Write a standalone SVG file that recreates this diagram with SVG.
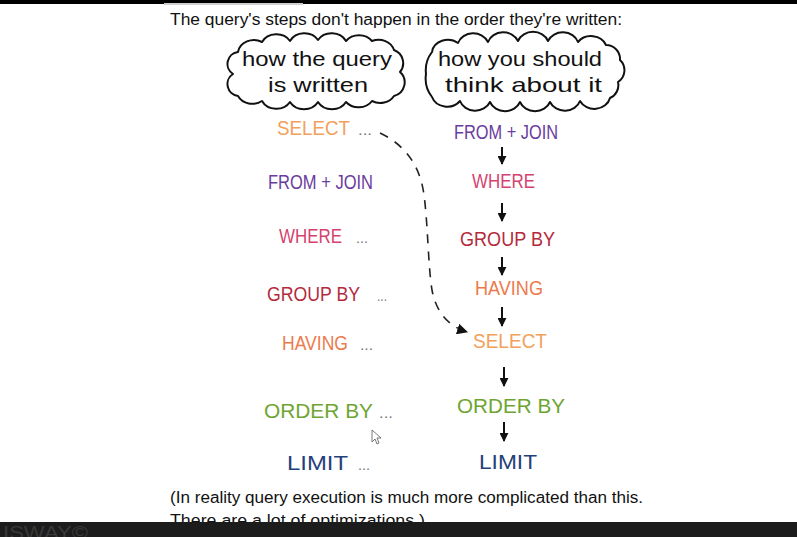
<svg xmlns="http://www.w3.org/2000/svg" width="797" height="537" viewBox="0 0 797 537">
<style>
.hand{font-family:"Liberation Sans","DejaVu Sans",sans-serif;fill:#111}
.cap{font-family:"Liberation Sans Narrow","Liberation Sans","DejaVu Sans Condensed",sans-serif;font-size:21px}
.dots{font-family:"Liberation Sans",sans-serif;font-size:15px;fill:#777}
.cloud{fill:#fff;stroke:#111;stroke-width:2;stroke-linejoin:round}
.arr{stroke:#111;stroke-width:2;fill:none}
.c-select{fill:#f2a15c}.c-from{fill:#6a3c9e}.c-where{fill:#d5426f}.c-group{fill:#b42a3c}.c-having{fill:#ec7b4c}.c-order{fill:#6ea532}.c-limit{fill:#24407a}
</style>
<defs>
<marker id="ah" viewBox="0 0 10 10" refX="9" refY="5" markerWidth="9" markerHeight="9" markerUnits="userSpaceOnUse" orient="auto"><path d="M0,0 L10,5 L0,10 z" fill="#111"/></marker>
<marker id="ah2" viewBox="0 0 10 10" refX="9" refY="5" markerWidth="11" markerHeight="11" markerUnits="userSpaceOnUse" orient="auto"><path d="M0,0 L10,5 L0,10 z" fill="#111"/></marker>
</defs>
<rect width="797" height="537" fill="#fff"/>
<rect x="0" y="0" width="797" height="4" fill="#000"/>
<rect x="164" y="3" width="139" height="2" fill="#cfcfcf"/>
<text class="hand" x="170" y="25" font-size="16" textLength="452" lengthAdjust="spacingAndGlyphs">The query's steps don't happen in the order they're written:</text>

<g id="cloud-written">
<path class="cloud" d="M238,52 A16,14 0 0 1 262,42 A16,14 0 0 1 290,41 A16,14 0 0 1 318,40 A16,14 0 0 1 346,41 A16,14 0 0 1 372,41 A16,14 0 0 1 394,50 A14,14 0 0 1 400,72 A14,14 0 0 1 394,96 A16,14 0 0 1 372,101 A16,14 0 0 1 346,102 A16,14 0 0 1 318,102 A16,14 0 0 1 290,102 A16,14 0 0 1 262,101 A16,14 0 0 1 238,96 A12,12 0 0 1 233,74 A12,12 0 0 1 238,52 Z"/>
<text class="hand" x="242" y="66" font-size="21" textLength="150" lengthAdjust="spacingAndGlyphs">how the query</text>
<text class="hand" x="268" y="92" font-size="21" textLength="100" lengthAdjust="spacingAndGlyphs">is written</text>
</g>
<g id="cloud-think">
<path class="cloud" d="M432,52 A16,14 0 0 1 458,43 A16,14 0 0 1 488,42 A16,14 0 0 1 518,41 A16,14 0 0 1 548,41 A16,14 0 0 1 578,42 A16,14 0 0 1 606,45 A14,14 0 0 1 620,60 A14,14 0 0 1 618,82 A14,14 0 0 1 610,98 A16,14 0 0 1 580,101 A16,14 0 0 1 550,102 A16,14 0 0 1 520,102 A16,14 0 0 1 490,102 A16,14 0 0 1 460,101 A16,14 0 0 1 432,97 A30,30 0 0 1 426,74 A30,30 0 0 1 432,52 Z"/>
<text class="hand" x="438" y="66" font-size="21" textLength="164" lengthAdjust="spacingAndGlyphs">how you should</text>
<text class="hand" x="445" y="92" font-size="21" textLength="157" lengthAdjust="spacingAndGlyphs">think about it</text>
</g>

<g id="left-select"><text class="cap c-select" x="277" y="135" textLength="73" lengthAdjust="spacingAndGlyphs">SELECT</text><text class="dots" x="358" y="135" textLength="14" lengthAdjust="spacingAndGlyphs">...</text></g>
<g id="left-from"><text class="cap c-from" x="268" y="189" font-size="19" textLength="105" lengthAdjust="spacingAndGlyphs">FROM + JOIN</text></g>
<g id="left-where"><text class="cap c-where" x="279" y="243" textLength="63" lengthAdjust="spacingAndGlyphs">WHERE</text><text class="dots" x="356" y="243" textLength="12" lengthAdjust="spacingAndGlyphs">...</text></g>
<g id="left-group"><text class="cap c-group" x="267" y="301" font-size="19" textLength="93" lengthAdjust="spacingAndGlyphs">GROUP BY</text><text class="dots" x="377" y="301" textLength="10" lengthAdjust="spacingAndGlyphs">...</text></g>
<g id="left-having"><text class="cap c-having" x="282" y="350" textLength="66" lengthAdjust="spacingAndGlyphs">HAVING</text><text class="dots" x="360" y="350" textLength="13" lengthAdjust="spacingAndGlyphs">...</text></g>
<g id="left-order"><text class="cap c-order" x="264" y="418" textLength="109" lengthAdjust="spacingAndGlyphs">ORDER BY</text><text class="dots" x="379" y="418" textLength="14" lengthAdjust="spacingAndGlyphs">...</text></g>
<g id="left-limit"><text class="cap c-limit" x="287" y="470" textLength="61" lengthAdjust="spacingAndGlyphs">LIMIT</text><text class="dots" x="358" y="470" textLength="12" lengthAdjust="spacingAndGlyphs">...</text></g>

<g id="right-from"><text class="cap c-from" x="454" y="139" font-size="19" textLength="104" lengthAdjust="spacingAndGlyphs">FROM + JOIN</text></g>
<g id="right-where"><text class="cap c-where" x="472" y="188" textLength="63" lengthAdjust="spacingAndGlyphs">WHERE</text></g>
<g id="right-group"><text class="cap c-group" x="460" y="246" textLength="95" lengthAdjust="spacingAndGlyphs">GROUP BY</text></g>
<g id="right-having"><text class="cap c-having" x="475" y="295" textLength="68" lengthAdjust="spacingAndGlyphs">HAVING</text></g>
<g id="right-select"><text class="cap c-select" x="473" y="348" textLength="74" lengthAdjust="spacingAndGlyphs">SELECT</text></g>
<g id="right-order"><text class="cap c-order" x="457" y="413" textLength="108" lengthAdjust="spacingAndGlyphs">ORDER BY</text></g>
<g id="right-limit"><text class="cap c-limit" x="479" y="469" textLength="58" lengthAdjust="spacingAndGlyphs">LIMIT</text></g>

<g id="connectors">
<path class="arr" d="M502,147 L502,164" marker-end="url(#ah)"/>
<path class="arr" d="M502,203 L502,221" marker-end="url(#ah)"/>
<path class="arr" d="M502,257 L502,275" marker-end="url(#ah)"/>
<path class="arr" d="M502,307 L502,326" marker-end="url(#ah)"/>
<path class="arr" d="M504,367 L504,386" marker-end="url(#ah)"/>
<path class="arr" d="M504,422 L504,441" marker-end="url(#ah)"/>
<path d="M380,133 C405,145 420,165 424,195 C428,225 428,265 432,290 C436,312 448,326 467,332" fill="none" stroke="#222" stroke-width="1.6" stroke-dasharray="9 8" marker-end="url(#ah2)"/>
</g>

<text class="hand" x="170" y="503" font-size="16" textLength="473" lengthAdjust="spacingAndGlyphs">(In reality query execution is much more complicated than this.</text>
<text class="hand" x="170" y="526" font-size="16" textLength="255" lengthAdjust="spacingAndGlyphs">There are a lot of optimizations.)</text>

<path d="M372,430 L372,442 L375,439 L377,444 L379,443 L377,438 L381,438 Z" fill="#fff" stroke="#555" stroke-width="0.8"/>

<rect x="0" y="522" width="797" height="15" fill="#1c1c1c"/>
<text x="3" y="539" font-family="Liberation Sans,sans-serif" font-size="19" fill="#383838" textLength="85" lengthAdjust="spacingAndGlyphs">ISWAY©</text>
</svg>
